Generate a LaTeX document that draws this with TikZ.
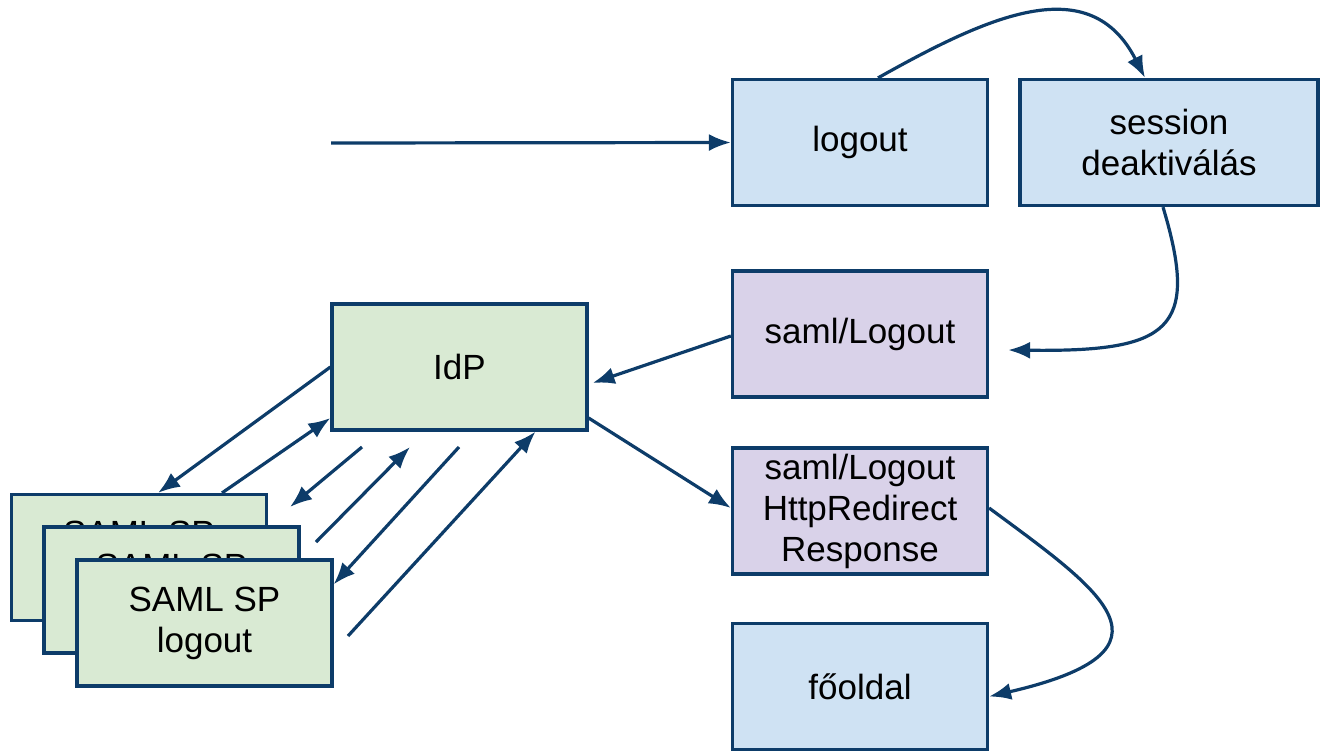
\documentclass[tikz,border=0pt]{standalone}
\usepackage{fontspec}
\setmainfont{Liberation Sans}
\usetikzlibrary{arrows.meta,calc}
\definecolor{navy}{HTML}{0D3C69}
\definecolor{boxblue}{HTML}{CFE2F3}
\definecolor{boxlilac}{HTML}{D9D2E9}
\definecolor{boxgreen}{HTML}{D9EAD3}
\tikzset{
  stepbox/.style={draw=navy, line width=3.2pt, minimum width=255pt, minimum height=126pt,
    align=center, inner sep=0pt, font=\fontsize{35}{41}\selectfont},
  bluebox/.style={stepbox, fill=boxblue},
  lilacbox/.style={stepbox, fill=boxlilac},
  greenbox/.style={stepbox, fill=boxgreen},
  flow/.style={draw=navy, line width=3.2pt, -{Latex[length=22pt,width=17pt]}}
}
\begin{document}
\begin{tikzpicture}[x=1pt,y=-1pt]
\useasboundingbox (0,0) rectangle (1329,753);

% process steps
\node[bluebox] (logout) at (860,142.5) {logout};
\node[bluebox, minimum width=298pt] (session) at (1169,142.5) {session\\deaktiválás};
\node[lilacbox] (slo) at (860,334) {saml/Logout};
\node[lilacbox] (resp) at (860,511) {saml/Logout\\HttpRedirect\\Response};
\node[bluebox] (home) at (860,686.5) {főoldal};
\node[greenbox] (idp) at (459.5,367) {IdP};

% stacked service providers, back to front
\node[greenbox] (sp3) at (139,557.5) {SAML SP\\logout};
\node[greenbox] (sp2) at (171.5,590) {SAML SP\\logout};
\node[greenbox] (sp1) at (204.5,623) {SAML SP\\logout};

% free ends
\coordinate (entry) at (331,143);
\coordinate (a3s) at (362,447);
\coordinate (a3e) at (290,507);
\coordinate (a4s) at (316,542);
\coordinate (a4e) at (410,447);
\coordinate (a5s) at (459,447);
\coordinate (a6s) at (348,636);

% main flow
\draw[flow] (entry) -- (logout.west);
\draw[flow] ([xshift=18pt]logout.north) .. controls (990,15) and (1090,-30) .. ([xshift=-24pt]session.north);
\draw[flow] ([xshift=-6pt]session.south) .. controls (1200,330) and (1170,352) .. ([xshift=19pt,yshift=-16pt]slo.east);
\draw[flow] ([yshift=-2pt]slo.west) -- ([xshift=4pt,yshift=-16pt]idp.east);
\draw[flow] ([yshift=-51pt]idp.east) -- ([yshift=3pt]resp.west);
\draw[flow] ([yshift=3pt]resp.east) .. controls (1100,590) and (1190,650) .. ([yshift=-10pt]home.east);

% exchanges between IdP and service providers
\draw[flow] (idp.west) -- ([xshift=19pt]sp3.north);
\draw[flow] ([xshift=83pt]sp3.north) -- ([yshift=-51pt]idp.west);
\draw[flow] (a3s) -- (a3e);
\draw[flow] (a4s) -- (a4e);
\draw[flow] (a5s) -- ([yshift=-26pt]sp1.north east);
\draw[flow] (a6s) -- ([xshift=76pt]idp.south);
\end{tikzpicture}
\end{document}
